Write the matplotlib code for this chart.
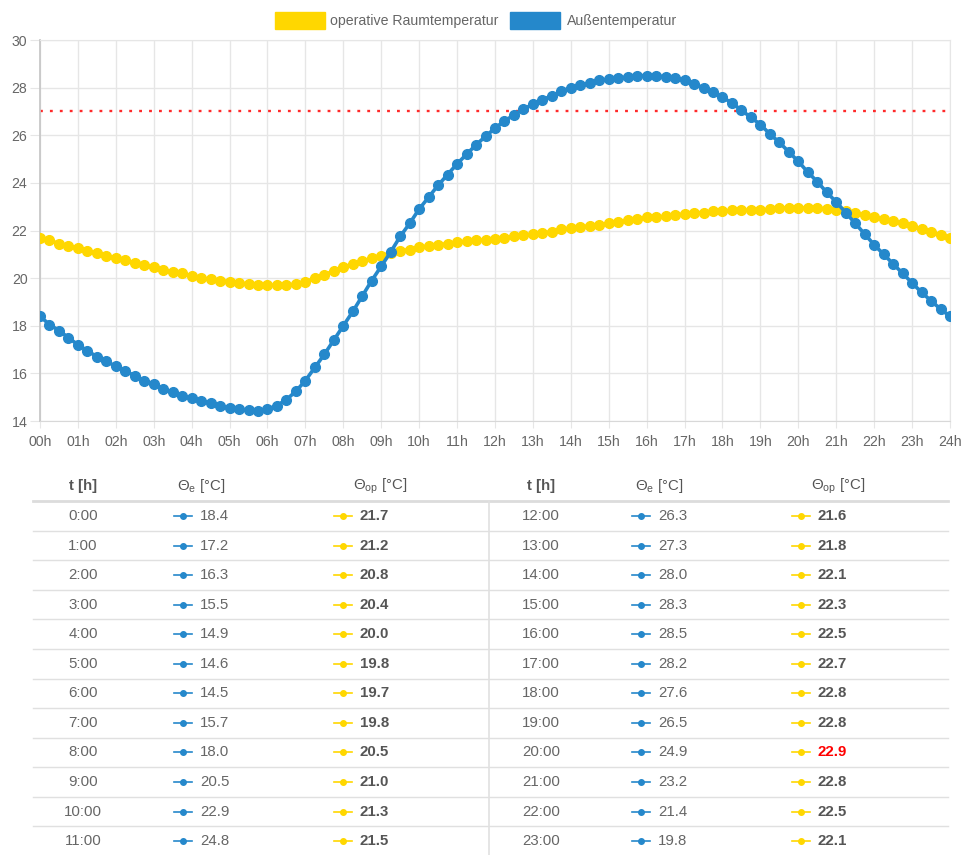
import numpy as np
import matplotlib.pyplot as plt
from matplotlib.lines import Line2D
from matplotlib.patches import Rectangle

plt.rcParams['font.family'] = ['Liberation Sans', 'DejaVu Sans']
plt.rcParams['mathtext.default'] = 'regular'

# quarter-hour series
hours = np.arange(0, 24.01, 0.25)
theta_e = [18.4, 18.05, 17.8, 17.5, 17.2, 16.95, 16.7, 16.5,
           16.3, 16.1, 15.9, 15.7, 15.55, 15.35, 15.2, 15.05,
           14.95, 14.85, 14.75, 14.65, 14.55, 14.5, 14.45, 14.4,
           14.5, 14.65, 14.9, 15.25, 15.7, 16.25, 16.8, 17.4,
           18.0, 18.6, 19.25, 19.9, 20.5, 21.1, 21.75, 22.3,
           22.9, 23.4, 23.9, 24.35, 24.8, 25.2, 25.6, 25.95,
           26.3, 26.6, 26.85, 27.1, 27.3, 27.5, 27.65, 27.85,
           28.0, 28.1, 28.2, 28.3, 28.35, 28.4, 28.45, 28.5,
           28.5, 28.5, 28.45, 28.4, 28.3, 28.15, 28.0, 27.8,
           27.6, 27.35, 27.05, 26.75, 26.45, 26.05, 25.7, 25.3,
           24.9, 24.45, 24.05, 23.6, 23.2, 22.75, 22.3, 21.85,
           21.4, 21.0, 20.6, 20.2, 19.8, 19.4, 19.05, 18.7,
           18.4]
theta_op = [21.7, 21.6, 21.45, 21.35, 21.25, 21.15, 21.05, 20.95,
            20.85, 20.75, 20.65, 20.55, 20.45, 20.35, 20.25, 20.2,
            20.1, 20.0, 19.95, 19.9, 19.85, 19.8, 19.75, 19.7,
            19.7, 19.7, 19.7, 19.75, 19.85, 20.0, 20.15, 20.3,
            20.45, 20.6, 20.7, 20.85, 20.95, 21.05, 21.15, 21.2,
            21.3, 21.35, 21.4, 21.45, 21.5, 21.55, 21.6, 21.6,
            21.65, 21.7, 21.75, 21.8, 21.85, 21.9, 21.95, 22.05,
            22.1, 22.15, 22.2, 22.25, 22.3, 22.35, 22.45, 22.5,
            22.55, 22.55, 22.6, 22.65, 22.7, 22.75, 22.75, 22.8,
            22.8, 22.85, 22.85, 22.85, 22.85, 22.9, 22.95, 22.95,
            22.95, 22.95, 22.95, 22.9, 22.85, 22.8, 22.75, 22.65,
            22.55, 22.5, 22.4, 22.3, 22.2, 22.05, 21.95, 21.8,
            21.7]
limit = 27

# hourly table
tab_time = ['%d:00' % h for h in range(24)]
tab_e = [18.4, 17.2, 16.3, 15.5, 14.9, 14.6, 14.5, 15.7, 18.0, 20.5, 22.9, 24.8,
         26.3, 27.3, 28.0, 28.3, 28.5, 28.2, 27.6, 26.5, 24.9, 23.2, 21.4, 19.8]
tab_op = [21.7, 21.2, 20.8, 20.4, 20.0, 19.8, 19.7, 19.8, 20.5, 21.0, 21.3, 21.5,
          21.6, 21.8, 22.1, 22.3, 22.5, 22.7, 22.8, 22.8, 22.9, 22.8, 22.5, 22.1]

yellow = '#ffd700'
blue = '#2588cb'
grid = '#e6e6e6'
txt = '#666666'

W, H = 964, 855
fig = plt.figure(figsize=(W / 100, H / 100), dpi=100)
fx = lambda x: x / W
fy = lambda y: 1 - y / H

ax = fig.add_axes([fx(40), fy(421), (950 - 40) / W, (421 - 40) / H])
ax.plot(hours, theta_op, color=yellow, lw=2.6, marker='o', ms=7, zorder=3)
ax.plot(hours, theta_e, color=blue, lw=2.6, marker='o', ms=7, zorder=4)
ax.axhline(limit, color='#ff2a2a', lw=1.7, ls=(0, (1.2, 3.0)), zorder=2)
ax.set_xlim(0, 24)
ax.set_ylim(14, 30)
ax.set_xticks(range(25))
ax.set_xticklabels(['%02dh' % h for h in range(25)])
ax.set_yticks(range(14, 31, 2))
ax.grid(True, color=grid, lw=1)
ax.tick_params(colors=grid, labelcolor=txt, labelsize=10.2, length=5, pad=5)
ax.tick_params(axis='y', length=7, pad=2)
for s in ['top', 'right']:
    ax.spines[s].set_color(grid)
ax.spines['left'].set_color('#c8c8c8')
ax.spines['left'].set_linewidth(1.3)
ax.spines['bottom'].set_color('#d8d8d8')

# legend
fig.add_artist(Rectangle((fx(275), fy(29)), 50 / W, 17 / H, color=yellow, transform=fig.transFigure))
fig.text(fx(330), fy(21), 'operative Raumtemperatur', color=txt, fontsize=10.2, va='center')
fig.add_artist(Rectangle((fx(510), fy(29)), 50 / W, 17 / H, color=blue, transform=fig.transFigure))
fig.text(fx(567), fy(21), 'Außentemperatur', color=txt, fontsize=10.2, va='center')

# table
def hline(y, x0, x1, lw=1, c='#e0e0e0'):
    fig.add_artist(Line2D([fx(x0), fx(x1)], [fy(y), fy(y)], color=c, lw=lw, transform=fig.transFigure))

def icon(x, y, c):
    fig.add_artist(Line2D([fx(x - 9), fx(x + 9)], [fy(y), fy(y)], color=c, lw=1.2, transform=fig.transFigure))
    fig.add_artist(Line2D([fx(x)], [fy(y)], color=c, marker='o', ms=4, transform=fig.transFigure))

hdr_y = 486
for off in [0, 458]:
    fig.text(fx(83 + off), fy(hdr_y), 't [h]', color='#555555', fontsize=10.8, weight='bold', ha='center', va='center')
    fig.text(fx(201 + off), fy(hdr_y), 'Θ$_e$ [°C]', color='#555555', fontsize=10.8, ha='center', va='center')
    fig.text(fx(380 + off), fy(hdr_y), 'Θ$_{op}$ [°C]', color='#555555', fontsize=10.8, ha='center', va='center')
hline(501, 33, 948, lw=2, c='#dcdcdc')
fig.add_artist(Line2D([fx(489), fx(489)], [fy(501), fy(855)], color='#e0e0e0', lw=1.2, transform=fig.transFigure))

top_op = max(tab_op)
for i in range(24):
    half, row = divmod(i, 12)
    off = 458 * half
    y = 516 + row * 29.55
    if half == 0 and row < 11:
        hline(y + 14.8, 33, 948)
    fig.text(fx(83 + off), fy(y), tab_time[i], color=txt, fontsize=10.8, ha='center', va='center')
    icon(183 + off, y, blue)
    fig.text(fx(200 + off), fy(y), '%.1f' % tab_e[i], color=txt, fontsize=10.8, va='center')
    icon(343 + off, y, yellow)
    fig.text(fx(360 + off), fy(y), '%.1f' % tab_op[i], color='red' if tab_op[i] == top_op else '#555555',
             fontsize=10.8, weight='bold', va='center')

plt.savefig('out.png', dpi=100)
